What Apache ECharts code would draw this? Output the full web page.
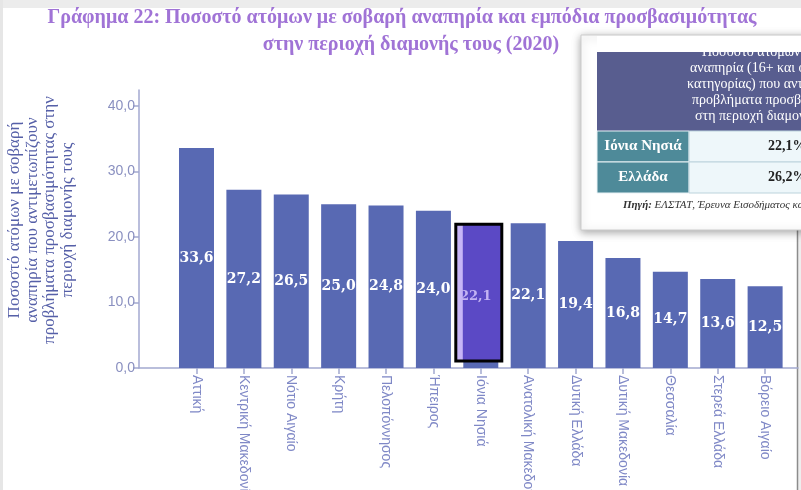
<!DOCTYPE html>
<html>
<head>
<meta charset="utf-8">
<script src="https://cdn.jsdelivr.net/npm/echarts@6/dist/echarts.min.js"></script>
<style>
html, body { margin: 0; padding: 0; background: #fff; }
#main { width: 801px; height: 490px; }
</style>
</head>
<body>
<div id="main"></div>
<script>
var chartDom = document.getElementById('main');
var myChart = echarts.init(chartDom);
var option;

// data
var categories = ['Αττική', 'Κεντρική Μακεδονία', 'Νότιο Αιγαίο', 'Κρήτη', 'Πελοπόννησος', 'Ήπειρος',
  'Ιόνια Νησιά', 'Ανατολική Μακεδονία', 'Δυτική Ελλάδα', 'Δυτική Μακεδονία', 'Θεσσαλία', 'Στερεά Ελλάδα', 'Βόρειο Αιγαίο'];
var values = [33.6, 27.2, 26.5, 25.0, 24.8, 24.0, 22.1, 22.1, 19.4, 16.8, 14.7, 13.6, 12.5];
var highlightName = 'Ιόνια Νησιά';

var titleLines = ['Γράφημα 22: Ποσοστό ατόμων με σοβαρή αναπηρία και εμπόδια προσβασιμότητας',
  'στην περιοχή διαμονής τους (2020)'];
var yNameLines = ['Ποσοστό ατόμων με σοβαρή', 'αναπηρία που αντιμετωπίζουν',
  'προβλήματα προσβασιμότητας στην', 'περιοχή διαμονής τους'];

var tableHeader = ['Ποσοστό ατόμων με σοβαρή', 'αναπηρία (16+ και όλες οι', 'κατηγορίας) που αντιμετωπίζουν',
  'προβλήματα προσβασιμότητας', 'στη περιοχή διαμονής τους'];
var tableRegions = ['Ιόνια Νησιά', 'Ελλάδα'];
var tableValues = ['22,1%', '26,2%'];

var axisColor = '#a3a9d0';
var barColor = '#5869b3';

function fmt(v) {
  return Number(v).toFixed(1).replace('.', ',');
}

var hi = categories.indexOf(highlightName);

var barData = values.map(function (v, i) {
  if (i === hi) return { value: v, label: { show: false } };
  return v;
});

// table overlay (picture of a table pasted on the slide)
var tableChildren = [
  { type: 'rect', shape: { x: 581, y: 35, width: 240, height: 195 },
    style: { fill: '#fff', stroke: '#cccccc', shadowBlur: 8, shadowColor: 'rgba(0,0,0,0.35)', shadowOffsetY: 2 } },
  { type: 'rect', shape: { x: 597, y: 52, width: 220, height: 79 }, style: { fill: '#585d8f' } }
];
var headerStarts = [702, 690, 687, 692, 695];
tableHeader.forEach(function (t, i) {
  tableChildren.push({ type: 'text', x: headerStarts[i], y: 52 + i * 16.2,
    style: { text: t, fill: '#ffffff', font: '14px "Liberation Serif"', align: 'left', verticalAlign: 'middle' } });
});
// the first header line is cut by the top of the band
tableChildren.push({ type: 'rect', shape: { x: 597, y: 36, width: 220, height: 16 }, style: { fill: '#ffffff' } });
tableRegions.forEach(function (r, i) {
  var y = 131 + i * 31;
  tableChildren.push({ type: 'rect', shape: { x: 597, y: y, width: 92, height: 31 },
    style: { fill: '#4e8a99', stroke: '#e8f2f5', lineWidth: 1 } });
  tableChildren.push({ type: 'rect', shape: { x: 689, y: y, width: 130, height: 31 },
    style: { fill: '#eef7fa', stroke: '#bcd3dc', lineWidth: 1 } });
  tableChildren.push({ type: 'text', x: 643, y: y + 15,
    style: { text: r, fill: '#ffffff', font: 'bold 15px "Liberation Serif"', align: 'center', verticalAlign: 'middle' } });
  tableChildren.push({ type: 'text', x: 768, y: y + 15,
    style: { text: tableValues[i], fill: '#222222', font: 'bold 14px "Liberation Serif"', align: 'left', verticalAlign: 'middle' } });
});
tableChildren.push({ type: 'text', x: 623, y: 205,
  style: { text: '{b|Πηγή:} ΕΛΣΤΑΤ, Έρευνα Εισοδήματος και Συνθηκών Διαβίωσης',
    fill: '#333333', font: 'italic 11px "Liberation Serif"', align: 'left', verticalAlign: 'middle',
    rich: { b: { fontWeight: 'bold', fontStyle: 'italic', fontSize: 11, fontFamily: 'Liberation Serif', fill: '#333333' } } } });

option = {
  animation: false,
  backgroundColor: '#ffffff',
  grid: [
    { left: 139, right: 3, top: 90, bottom: 122, containLabel: false, outerBoundsMode: 'none' },
    { left: 172.8, right: 12.2, top: 106, bottom: 122, containLabel: false, outerBoundsMode: 'none' }
  ],
  xAxis: [
    { gridIndex: 0, type: 'value', min: 0, max: 1,
      axisLine: { show: true, lineStyle: { color: axisColor, width: 1.5 } },
      axisTick: { show: false }, axisLabel: { show: false }, splitLine: { show: false } },
    { gridIndex: 1, type: 'category', data: categories,
      axisLine: { show: false },
      axisTick: { show: true, alignWithLabel: true, length: 6, lineStyle: { color: axisColor, width: 1.5 } },
      axisLabel: { rotate: -90, margin: 7, interval: 0, color: '#7f88c6', fontSize: 14, fontFamily: 'Liberation Sans' } }
  ],
  yAxis: [
    { gridIndex: 0, type: 'value', min: 0, max: 1,
      axisLine: { show: true, lineStyle: { color: axisColor, width: 1.5 } },
      axisTick: { show: false }, axisLabel: { show: false }, splitLine: { show: false } },
    { gridIndex: 1, type: 'value', min: 0, max: 40, interval: 10, offset: 33.8,
      axisLine: { show: false },
      axisTick: { show: true, length: 6, lineStyle: { color: axisColor, width: 1.5 } },
      axisLabel: { formatter: fmt, margin: 4, color: '#8a90c0', fontSize: 14, fontFamily: 'Liberation Sans' },
      splitLine: { show: false } }
  ],
  series: [
    {
      type: 'bar',
      xAxisIndex: 1,
      yAxisIndex: 1,
      data: barData,
      barWidth: 35,
      itemStyle: { color: barColor },
      label: {
        show: true,
        position: 'inside',
        formatter: function (p) { return fmt(p.value); },
        color: '#ffffff',
        fontFamily: 'DejaVu Serif',
        fontWeight: 'bold',
        fontSize: 14
      }
    },
    {
      type: 'custom',
      xAxisIndex: 1,
      yAxisIndex: 1,
      z: 5,
      data: [[hi, values[hi]]],
      renderItem: function (params, api) {
        var top = api.coord([api.value(0), api.value(1)]);
        var base = api.coord([api.value(0), 0]);
        var x0 = top[0] - 25, x1 = top[0] + 21;
        var y0 = top[1] + 1, y1 = base[1] - 7;
        return {
          type: 'group',
          children: [
            { type: 'rect', shape: { x: x0, y: y0, width: x1 - x0, height: y1 - y0 }, style: { fill: '#5b49c5' } },
            { type: 'rect', shape: { x: x0, y: y0, width: 7, height: y1 - y0 }, style: { fill: '#c7b5f7' } },
            { type: 'rect', shape: { x: x0, y: y0, width: x1 - x0, height: y1 - y0 },
              style: { fill: 'none', stroke: '#000000', lineWidth: 3 } },
            { type: 'text', x: (x0 + x1) / 2 - 3, y: (y0 + y1) / 2 + 4,
              style: { text: fmt(api.value(1)), fill: '#c3b3f3', font: 'bold 13px "DejaVu Serif"',
                align: 'center', verticalAlign: 'middle' } }
          ]
        };
      }
    }
  ],
  graphic: [
    { type: 'rect', z: 0, shape: { x: 0, y: 0, width: 801, height: 8 }, style: { fill: '#ececec' } },
    { type: 'rect', z: 0, shape: { x: 0, y: 0, width: 3, height: 490 }, style: { fill: '#e6e6e6' } },
    { type: 'rect', z: 0, shape: { x: 798, y: 230, width: 3, height: 260 }, style: { fill: '#eeeeee' } },
    { type: 'line', z: 0, shape: { x1: 797.5, y1: 230, x2: 797.5, y2: 490 }, style: { stroke: '#8c8c8c', lineWidth: 1.5 } },
    { type: 'text', x: 402, y: 18,
      style: { text: titleLines[0], fill: '#a073d6', font: 'bold 20px "Liberation Serif"', align: 'center', verticalAlign: 'middle' } },
    { type: 'text', x: 411, y: 45,
      style: { text: titleLines[1], fill: '#a073d6', font: 'bold 20px "Liberation Serif"', align: 'center', verticalAlign: 'middle' } },
    { type: 'text', x: 41, y: 220, rotation: Math.PI / 2,
      style: { text: yNameLines.join('\n'), fill: '#5660a8', font: '17px "Liberation Serif"', lineHeight: 17.5,
        align: 'center', verticalAlign: 'middle' } },
    { type: 'group', z: 100, children: tableChildren }
  ]
};

option && myChart.setOption(option);
</script>
</body>
</html>
